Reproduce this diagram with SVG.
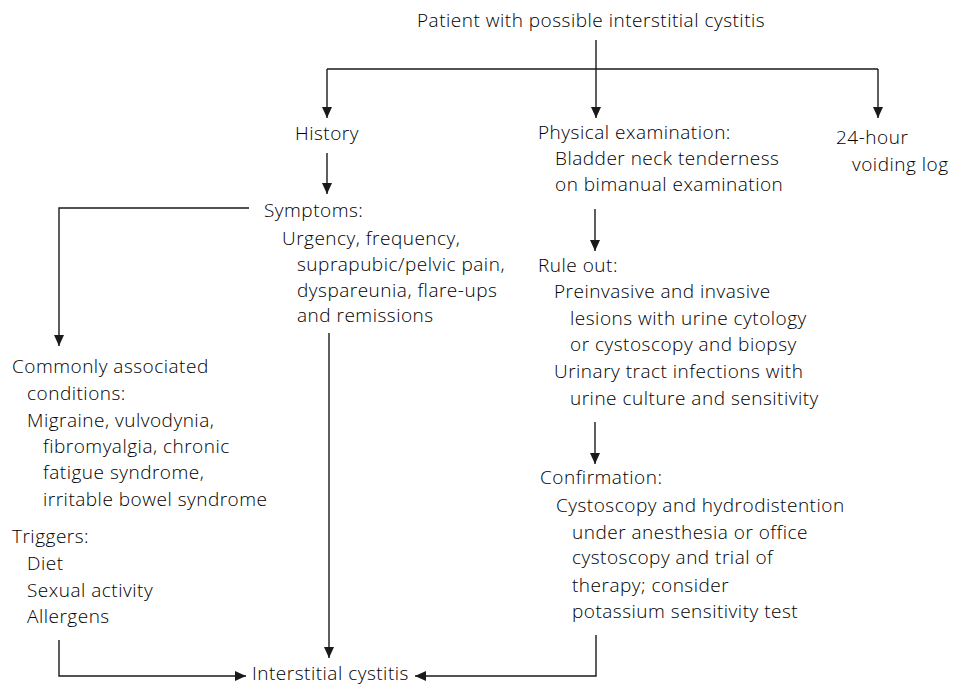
<svg xmlns="http://www.w3.org/2000/svg" width="955" height="686" viewBox="0 0 955 686">
<defs>
<marker id="ah" markerUnits="userSpaceOnUse" markerWidth="11" markerHeight="10" refX="11" refY="5" orient="auto">
<path d="M0,0 L11,5 L0,10 z" fill="#1a1a1a"/>
</marker>
<style>
text{font-family:"Open Sans","Noto Sans","Liberation Sans",sans-serif;font-size:19px;font-weight:300;letter-spacing:0.5px;fill:#000}
.c{fill:none;stroke:#1a1a1a;stroke-width:1.4}
.a{marker-end:url(#ah)}
</style>
</defs>
<rect width="955" height="686" fill="#fff"/>
<g id="connectors">
<line class="c" x1="596" y1="40" x2="596" y2="69"/>
<polyline class="c" points="327,69 878,69"/>
<line class="c a" x1="327" y1="69" x2="327" y2="118"/>
<line class="c a" x1="596" y1="69" x2="596" y2="118"/>
<line class="c a" x1="878" y1="69" x2="878" y2="118"/>
<line class="c a" x1="327" y1="153" x2="327" y2="194"/>
<polyline class="c a" points="249,208 59,208 59,346"/>
<line class="c a" x1="329" y1="333" x2="329" y2="658"/>
<polyline class="c a" points="59,640 59,676 246,676"/>
<polyline class="c a" points="596,635 596,676 415,676"/>
<line class="c a" x1="595" y1="209" x2="595" y2="251"/>
<line class="c a" x1="595" y1="422" x2="595" y2="464"/>
</g>
<g id="start"><text x="417" y="27">Patient with possible interstitial cystitis</text></g>
<g id="history"><text x="295" y="140">History</text></g>
<g id="physical">
<text x="538" y="139">Physical examination:</text>
<text x="555" y="165">Bladder neck tenderness</text>
<text x="555" y="191">on bimanual examination</text>
</g>
<g id="voiding">
<text x="836" y="144">24-hour</text>
<text x="852" y="171">voiding log</text>
</g>
<g id="symptoms">
<text x="264" y="217">Symptoms:</text>
<text x="282" y="245">Urgency, frequency,</text>
<text x="297" y="271">suprapubic/pelvic pain,</text>
<text x="297" y="297">dyspareunia, flare-ups</text>
<text x="297" y="322">and remissions</text>
</g>
<g id="ruleout">
<text x="538" y="272">Rule out:</text>
<text x="554" y="298">Preinvasive and invasive</text>
<text x="570" y="325">lesions with urine cytology</text>
<text x="570" y="351">or cystoscopy and biopsy</text>
<text x="554" y="378">Urinary tract infections with</text>
<text x="570" y="405">urine culture and sensitivity</text>
</g>
<g id="associated">
<text x="12" y="373">Commonly associated</text>
<text x="27" y="400">conditions:</text>
<text x="27" y="427">Migraine, vulvodynia,</text>
<text x="43" y="453">fibromyalgia, chronic</text>
<text x="43" y="479">fatigue syndrome,</text>
<text x="43" y="506">irritable bowel syndrome</text>
<text x="12" y="543">Triggers:</text>
<text x="27" y="570">Diet</text>
<text x="27" y="597">Sexual activity</text>
<text x="27" y="623">Allergens</text>
</g>
<g id="confirmation">
<text x="540" y="484">Confirmation:</text>
<text x="556" y="512">Cystoscopy and hydrodistention</text>
<text x="572" y="539">under anesthesia or office</text>
<text x="572" y="564">cystoscopy and trial of</text>
<text x="572" y="592">therapy; consider</text>
<text x="572" y="618">potassium sensitivity test</text>
</g>
<g id="ic"><text x="252" y="680">Interstitial cystitis</text></g>
</svg>
